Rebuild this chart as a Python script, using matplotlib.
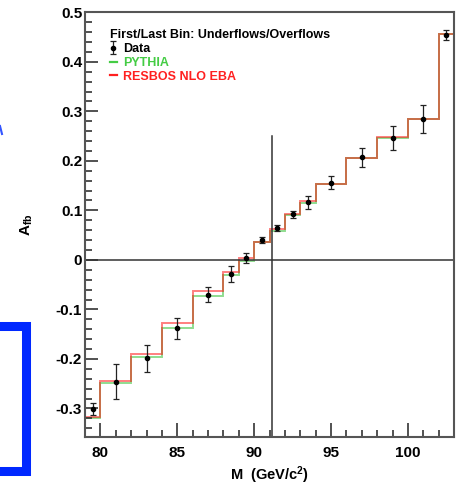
import matplotlib
matplotlib.use("Agg")
import matplotlib.pyplot as plt
import numpy as np
from matplotlib.patches import Rectangle
from matplotlib.lines import Line2D
from matplotlib.ticker import MultipleLocator, FuncFormatter

# bin edges in dilepton mass (first/last bins hold under/overflows)
edges = [79, 80, 82, 84, 86, 88, 89, 90, 91, 92, 93, 94, 96, 98, 100, 102, 103]

resbos = [-0.317, -0.2445, -0.1905, -0.127, -0.063, -0.024, 0.004, 0.037,
          0.063, 0.0935, 0.119, 0.154, 0.205, 0.249, 0.285, 0.457]
pythia = [-0.320, -0.249, -0.196, -0.138, -0.072, -0.030, -0.0025, 0.037,
          0.058, 0.090, 0.114, 0.154, 0.205, 0.246, 0.285, 0.457]

data_m = [79.5, 81, 83, 85, 87, 88.5, 89.5, 90.5, 91.5, 92.5, 93.5, 95, 97, 99, 101, 102.5]
data_afb = [-0.301, -0.246, -0.199, -0.138, -0.070, -0.028, 0.003, 0.040,
            0.064, 0.092, 0.116, 0.156, 0.207, 0.246, 0.285, 0.454]
data_err = [0.012, 0.035, 0.028, 0.021, 0.016, 0.016, 0.010, 0.006,
            0.006, 0.007, 0.0135, 0.013, 0.019, 0.024, 0.028, 0.010]

m_z = 91.19
afb_at_mz = 0.25

plt.rcParams['font.family'] = ['Liberation Sans', 'DejaVu Sans']
plt.rcParams['mathtext.default'] = 'regular'

W, H = 460, 488
fig = plt.figure(figsize=(W / 100, H / 100), dpi=100)
ax = fig.add_axes([85 / W, 1 - 436.7 / H, (454 - 85) / W, (436.7 - 12.3) / H])

ax.stairs(pythia, edges, baseline=None, color='#22bb22', alpha=0.5, lw=1.4, label='PYTHIA')
ax.stairs(resbos, edges, baseline=None, color='#ff0000', alpha=0.5, lw=1.4, label='RESBOS NLO EBA')
eb = ax.errorbar(data_m, data_afb, yerr=data_err, fmt='o', ms=3, color='black',
                 ecolor='#222222', elinewidth=0.9, capsize=2, capthick=0.9, label='Data', zorder=5)

ax.axhline(0, color='#333333', lw=1.1, zorder=1)
ax.plot([m_z, m_z], [-0.357, afb_at_mz], color='#333333', lw=1.1, zorder=1)

ax.set_xlim(79, 103)
ax.set_ylim(-0.357, 0.5)

ax.xaxis.set_major_locator(MultipleLocator(5))
ax.xaxis.set_minor_locator(MultipleLocator(1))
ax.yaxis.set_major_locator(MultipleLocator(0.1))
ax.yaxis.set_minor_locator(MultipleLocator(0.02))
ax.yaxis.set_major_formatter(FuncFormatter(lambda v, p: '0' if abs(v) < 1e-9 else f'{v:.1f}'))

ax.tick_params(which='both', direction='in', top=False, right=False, color='#333333', width=1.2)
ax.tick_params(axis='x', which='major', length=10, pad=7, labelsize=11)
ax.tick_params(axis='y', which='major', length=9, pad=2, labelsize=11)
ax.tick_params(which='minor', length=5)
for lab in ax.get_xticklabels() + ax.get_yticklabels():
    lab.set_fontweight('bold')

for s in ax.spines.values():
    s.set_color('#555555')
    s.set_linewidth(1.5)

ax.set_xlabel('M  (GeV/c$^2$)', fontsize=10.5, fontweight='bold')
ax.xaxis.set_label_coords(0.5, -0.066)
ax.set_ylabel('A$_{fb}$', fontsize=11, fontweight='bold')
ax.yaxis.set_label_coords(-0.135, 0.5)

leg = ax.legend(handles=[eb, Line2D([], [], color='#44cc44', lw=1.6),
                         Line2D([], [], color='#ff2020', lw=1.6)],
                labels=['Data', 'PYTHIA', 'RESBOS NLO EBA'],
                title='First/Last Bin: Underflows/Overflows', alignment='left',
                loc='upper left', bbox_to_anchor=(0.05, 0.975), frameon=False,
                borderpad=0, handlelength=0.6, handletextpad=0.5, labelspacing=0.15,
                labelcolor=['black', '#44cc44', '#ff2020'],
                prop={'family': ['Liberation Sans Narrow', 'Liberation Sans'], 'weight': 'bold', 'size': 9},
                title_fontproperties={'family': ['Liberation Sans Narrow', 'Liberation Sans'],
                                      'weight': 'bold', 'size': 9})

# blue frame at the left edge of the page
fig.add_artist(Rectangle((-20 / W, 1 - 471 / H), (26.5 + 20) / W, (471 - 325.5) / H,
                         transform=fig.transFigure, fill=False, ec='#0028ff', lw=6.5))
fig.add_artist(Line2D([0, 2 / W], [1 - 126 / H, 1 - 134 / H], transform=fig.transFigure,
                      color='#3355ff', lw=1.5))

fig.savefig('out.png', dpi=100)
